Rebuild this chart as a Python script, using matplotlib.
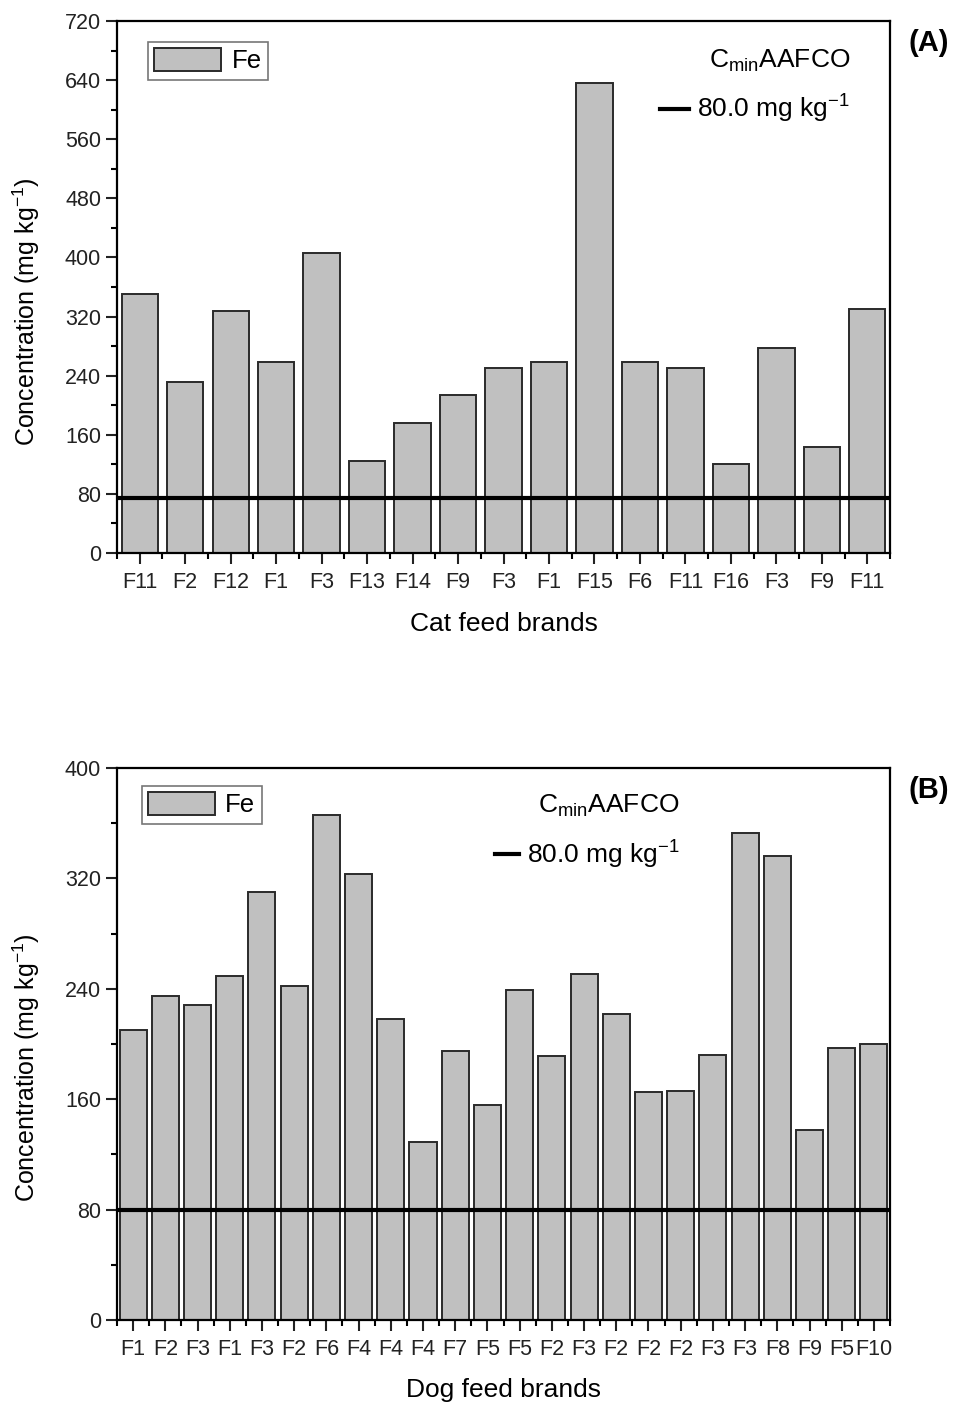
import numpy as np
import matplotlib
matplotlib.use('Agg')
import matplotlib.pyplot as plt
from matplotlib.lines import Line2D
from matplotlib.ticker import MultipleLocator, FixedLocator

plt.rcParams['font.family'] = ['Liberation Sans', 'DejaVu Sans']
plt.rcParams['mathtext.fontset'] = 'custom'
plt.rcParams['mathtext.rm'] = 'Liberation Sans'
plt.rcParams['mathtext.it'] = 'Liberation Sans'

# panel A - cat feed
cat_brands = ['F11', 'F2', 'F12', 'F1', 'F3', 'F13', 'F14', 'F9', 'F3', 'F1',
              'F15', 'F6', 'F11', 'F16', 'F3', 'F9', 'F11']
cat_fe = [350, 232, 327, 258, 406, 125, 176, 214, 250, 258,
          636, 258, 251, 120, 277, 143, 330]
cat_limit = 75

# panel B - dog feed
dog_brands = ['F1', 'F2', 'F3', 'F1', 'F3', 'F2', 'F6', 'F4', 'F4', 'F4', 'F7', 'F5',
              'F5', 'F2', 'F3', 'F2', 'F2', 'F2', 'F3', 'F3', 'F8', 'F9', 'F5', 'F10']
dog_fe = [210, 235, 228, 249, 310, 242, 366, 323, 218, 129, 195, 156,
          239, 191, 251, 222, 165, 166, 192, 353, 336, 138, 197, 200]
dog_limit = 80

bar_color = '#c0c0c0'
edge = '#2a2a2a'


def panel(ax, brands, vals, limit, ymax, width, xlabel, tag, fe_anchor, lim_anchor,
          ylab_y, hlen):
    x = np.arange(len(brands))
    bars = ax.bar(x, vals, width=width, color=bar_color, edgecolor=edge,
                  linewidth=1.4, label='Fe', zorder=2)
    ax.axhline(limit, color='black', lw=3, zorder=3)
    ax.set_xlim(-0.5, len(brands) - 0.5)
    ax.set_ylim(0, ymax)
    ax.set_xticks(x)
    ax.set_xticklabels(brands)
    ax.xaxis.set_minor_locator(FixedLocator(np.arange(-0.5, len(brands), 1.0)))
    ax.yaxis.set_major_locator(MultipleLocator(80))
    ax.yaxis.set_minor_locator(MultipleLocator(40))
    ax.tick_params(axis='both', which='major', direction='out', length=8, width=1.5,
                   labelsize=15.5, colors='#222222')
    ax.tick_params(axis='both', which='minor', direction='out', length=4, width=1.5)
    ax.tick_params(axis='x', pad=6)
    for s in ax.spines.values():
        s.set_linewidth(1.6)
    ax.set_xlabel(xlabel, fontsize=19, labelpad=13)
    ax.set_ylabel('Concentration (mg kg$^{-1}$)', fontsize=18)
    ax.yaxis.set_label_coords(-0.097, ylab_y)

    leg1 = ax.legend(handles=[bars], loc='upper left', bbox_to_anchor=fe_anchor,
                     fontsize=18.5, handlelength=2.6, handleheight=1.0, fancybox=False,
                     edgecolor='#555555', borderpad=0.25, handletextpad=0.4,
                     borderaxespad=0)
    leg1.get_frame().set_linewidth(1.2)
    ax.add_artist(leg1)
    line_h = Line2D([], [], color='black', lw=3)
    leg2 = ax.legend(handles=[line_h], labels=['80.0 mg kg$^{-1}$'],
                     title='C$_{\\rm min}$AAFCO', loc='upper right',
                     bbox_to_anchor=lim_anchor, fontsize=19, title_fontsize=19,
                     frameon=False, handlelength=hlen, handletextpad=0.3,
                     borderaxespad=0, borderpad=0)
    leg2._legend_box.align = 'right'
    leg2._legend_box.sep = 14
    ax.text(1.05, 0.985, tag, transform=ax.transAxes, fontsize=21, fontweight='bold',
            ha='center', va='top')


fig = plt.figure(figsize=(9.56, 14.09), dpi=100)
ax1 = fig.add_axes([0.1224, 0.6075, 0.8086, 0.3776])
ax2 = fig.add_axes([0.1224, 0.0632, 0.8086, 0.3917])

panel(ax1, cat_brands, cat_fe, cat_limit, 720, 0.8, 'Cat feed brands', '(A)',
      (0.040, 0.961), (0.948, 0.95), 0.453, 1.1)
panel(ax2, dog_brands, dog_fe, dog_limit, 400, 0.84, 'Dog feed brands', '(B)',
      (0.032, 0.968), (0.728, 0.955), 0.458, 0.9)

fig.savefig('out.png', dpi=100)
